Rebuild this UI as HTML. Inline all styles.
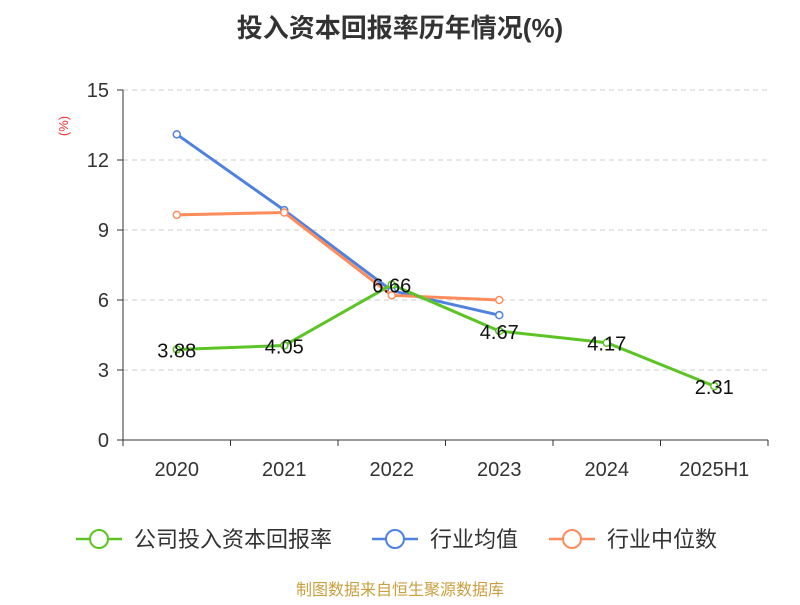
<!DOCTYPE html>
<html><head><meta charset="utf-8"><style>
body{margin:0;background:#fff;font-family:"Liberation Sans","Noto Sans CJK SC",sans-serif;}
</style></head><body>
<svg id="c" width="800" height="600" xmlns="http://www.w3.org/2000/svg">
<text x="400" y="37" text-anchor="middle" font-size="26" font-weight="bold" fill="#333" font-family="Liberation Sans,Noto Sans CJK SC,sans-serif">投入资本回报率历年情况(%)</text>
<text x="68" y="126" font-size="13" fill="#e33" transform="rotate(-90 68 126)" text-anchor="middle">(%)</text>
<g id="grid"></g><g id="axes"></g><g id="series"></g>
<g>
<g><line x1="76" y1="539" x2="122" y2="539" stroke="#5cc424" stroke-width="2.5"/><circle cx="99" cy="539" r="9" fill="#fff" stroke="#5cc424" stroke-width="2"/><text x="134" y="547" font-size="22" fill="#333">公司投入资本回报率</text></g>
<g><line x1="372" y1="539" x2="418" y2="539" stroke="#4f82e0" stroke-width="2.5"/><circle cx="395" cy="539" r="9" fill="#fff" stroke="#4f82e0" stroke-width="2"/><text x="430" y="547" font-size="22" fill="#333">行业均值</text></g>
<g><line x1="549" y1="539" x2="595" y2="539" stroke="#ff8c5a" stroke-width="2.5"/><circle cx="572" cy="539" r="9" fill="#fff" stroke="#ff8c5a" stroke-width="2"/><text x="607" y="547" font-size="22" fill="#333">行业中位数</text></g>
</g>
<text x="400" y="595" text-anchor="middle" font-size="16" fill="#c8a040">制图数据来自恒生聚源数据库</text>
</svg>
<script>
const categories=["2020","2021","2022","2023","2024","2025H1"];
const companyValues=[3.88,4.05,6.66,4.67,4.17,2.31];
const industryAvg=[13.1,9.85,6.4,5.35];
const industryMedian=[9.65,9.75,6.2,6.0];
const yTicks=[0,3,6,9,12,15];
const NS="http://www.w3.org/2000/svg";
const x0=123,x1=768,yTop=90,yBot=440,yMax=15;
const bw=(x1-x0)/categories.length;
const xs=i=>x0+bw*(i+0.5);
const ys=v=>yBot-(v/yMax)*(yBot-yTop);
function mk(tag,attrs,parent,txt){const e=document.createElementNS(NS,tag);for(const k in attrs)e.setAttribute(k,attrs[k]);if(txt!=null)e.textContent=txt;parent.appendChild(e);return e;}
const grid=document.getElementById('grid'),axes=document.getElementById('axes'),ser=document.getElementById('series');
yTicks.forEach(t=>{
 if(t>0){const g=mk('line',{x1:x0,x2:x1,y1:ys(t),y2:ys(t),stroke:'#ccc','stroke-dasharray':'5,4'},grid);
 
 }
 const tk=mk('line',{x1:x0-6,x2:x0,y1:ys(t),y2:ys(t),stroke:'#333'},axes);
 
 
 const l=mk('text',{x:x0-14,y:ys(t)+7,'text-anchor':'end','font-size':20,fill:'#333'},axes,String(t));
 
 
});
const ya=mk('line',{x1:x0,x2:x0,y1:yTop,y2:yBot,stroke:'#333'},axes);


const xa=mk('line',{x1:x0,x2:x1,y1:yBot,y2:yBot,stroke:'#333'},axes);


for(let i=0;i<=categories.length;i++){const t=mk('line',{x1:x0+bw*i,x2:x0+bw*i,y1:yBot,y2:yBot+6,stroke:'#333'},axes);
 
 }
categories.forEach((c,i)=>{const l=mk('text',{x:xs(i),y:yBot+36,'text-anchor':'middle','font-size':20,fill:'#333'},axes,c);
 
 });
function series(vals,color,name){
 const p=mk('polyline',{points:vals.map((v,i)=>xs(i)+','+ys(v)).join(' '),fill:'none',stroke:color,'stroke-width':3},ser);
 
 
 vals.forEach((v,i)=>{const c=mk('circle',{cx:xs(i),cy:ys(v),r:3.5,fill:'#fff',stroke:color,'stroke-width':1.5},ser);
  
  });
}
series(industryAvg,'#4f82e0','industry-avg');
series(industryMedian,'#ff8c5a','industry-median');
series(companyValues,'#5cc424','company');
companyValues.forEach((v,i)=>{const t=mk('text',{x:xs(i),y:ys(v)+8,'text-anchor':'middle','font-size':20,fill:'#111'},ser,v.toFixed(2));
 
 });
</script>
</body></html>
